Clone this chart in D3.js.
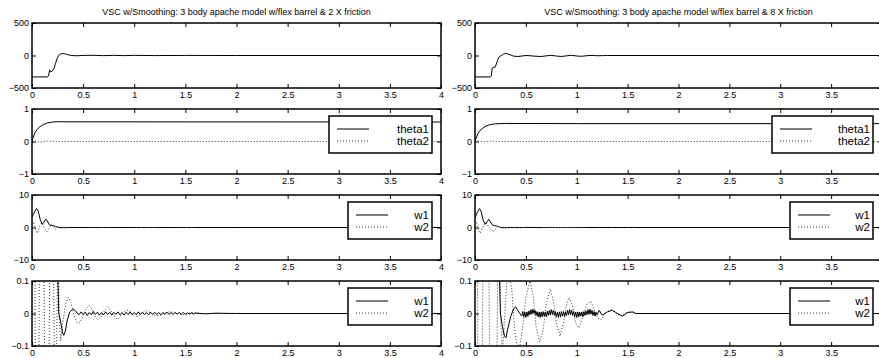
<!DOCTYPE html>
<html>
<head>
<meta charset="utf-8">
<script src="https://cdn.jsdelivr.net/npm/d3@7"></script>
<style>
  body { margin: 0; background: #fff; }
  svg { font-family: "Liberation Sans", Arial, Helvetica, sans-serif; }
</style>
</head>
<body>
<div id="chart"></div>
<script>
// ---- data ----
const titles = [
  "VSC w/Smoothing: 3 body apache model w/flex barrel & 2 X friction",
  "VSC w/Smoothing: 3 body apache model w/flex barrel & 8 X friction"
];
const xTicks = [0, 0.5, 1, 1.5, 2, 2.5, 3, 3.5, 4];
const xTickLabels = ["0", "0.5", "1", "1.5", "2", "2.5", "3", "3.5", "4"];
const yDomains = [[-500, 500], [-1, 1], [-10, 10], [-0.1, 0.1]];
const yTickLabels = [["−500", "0", "500"], ["−1", "0", "1"], ["−10", "0", "10"], ["−0.1", "0", "0.1"]];
const legendThetas = ["theta1", "theta2"];
const legendRates = ["w1", "w2"];

// 2 X friction
const ctrl2x = [[0,-330],[0.15,-330],[0.162,-315],[0.172,-222],[0.185,-252],[0.2,-236],[0.215,-200],[0.23,-120],[0.245,-50],[0.26,0],[0.28,22],[0.3,30],[0.32,27],[0.35,12],[0.38,2],[0.42,-4],[0.46,-3],[0.5,1],[0.6,3],[0.7,-2],[0.8,2],[0.9,-2],[1.0,2],[1.2,-1],[1.5,1],[2,0],[4,0]];
const theta1_2x = [[0,0],[0.01,0.12],[0.03,0.28],[0.05,0.37],[0.08,0.46],[0.11,0.52],[0.15,0.57],[0.2,0.6],[0.25,0.61],[0.35,0.605],[4,0.6]];
const theta2_2x = [[0,0],[0.03,0.02],[0.08,-0.02],[0.15,0.01],[0.25,0],[4,0]];
const w1_2x = [[0,3.2],[0.02,4.5],[0.045,5.8],[0.06,5.2],[0.08,2.5],[0.1,1.0],[0.115,1.6],[0.135,2.6],[0.15,2.0],[0.17,0.8],[0.19,0.6],[0.21,0.55],[0.23,0.35],[0.245,0.15],[0.252,0.12],[0.262,0.0],[0.28,-0.025],[0.3,-0.06],[0.31,-0.067],[0.325,-0.055],[0.345,-0.02],[0.37,0.005],[0.4,0.014],[0.42,0.01],[0.44,0.002],
  [0.46,-0.004],[0.48,0.005],[0.5,-0.003],[0.52,0.004],[0.54,-0.006],[0.56,0.003],[0.58,-0.004],[0.6,0.006],[0.62,-0.003],[0.64,0.004],[0.66,-0.005],[0.68,0.003],[0.7,-0.004],[0.72,0.005],[0.74,-0.003],[0.76,0.004],[0.78,-0.005],[0.8,0.004],[0.82,-0.003],[0.84,0.005],[0.86,-0.004],[0.88,0.003],[0.9,-0.005],[0.92,0.004],[0.94,-0.003],[0.96,0.005],[0.98,-0.004],[1.0,0.003],[1.02,-0.004],[1.04,0.005],[1.06,-0.003],[1.08,0.004],[1.1,-0.004],[1.12,0.003],[1.14,-0.004],[1.16,0.004],[1.18,-0.003],[1.2,0.004],[1.22,-0.003],[1.24,0.003],[1.26,-0.004],[1.28,0.003],[1.3,-0.003],[1.32,0.004],[1.34,-0.003],[1.36,0.003],[1.38,-0.003],[1.4,0.003],[1.42,-0.002],[1.44,0.003],[1.46,-0.002],[1.48,0.003],[1.5,-0.002],[1.52,0.002],[1.54,-0.002],[1.56,0.002],[1.58,-0.002],[1.6,0.001],[1.7,-0.001],[1.8,0.001],[2,0],[4,0]];
const w2_2x = [[0,1.5],[0.012,1.8],[0.03,0],[0.05,-1.8],[0.07,0],[0.095,1.5],[0.12,0],[0.145,-1.3],[0.17,0],[0.19,1.0],[0.215,0],[0.228,-0.5],[0.245,0],[0.255,0.3],[0.265,0],[0.28,-0.085],[0.3,-0.03],[0.33,0.03],[0.355,0.05],[0.38,0.035],[0.41,-0.005],[0.44,-0.028],[0.46,-0.03],[0.49,-0.015],[0.52,0.01],[0.56,0.025],[0.59,0.012],[0.62,-0.012],[0.645,-0.02],[0.68,-0.008],[0.715,0.012],[0.745,0.02],[0.78,0.005],[0.81,-0.012],[0.84,-0.018],[0.87,-0.005],[0.91,0.008],[0.94,0.011],[0.97,0.002],[1.0,-0.008],[1.03,-0.01],[1.07,0.0],[1.1,0.007],[1.13,0.008],[1.17,0.0],[1.2,-0.005],[1.25,-0.006],[1.3,0.002],[1.35,0.005],[1.4,0.003],[1.45,-0.003],[1.5,-0.004],[1.55,0.002],[1.6,0.003],[1.65,0],[4,0]];

// 8 X friction
const ctrl8x = [[0,-330],[0.15,-330],[0.16,-320],[0.17,-190],[0.18,-180],[0.195,-186],[0.21,-130],[0.225,-60],[0.24,-15],[0.26,0],[0.28,20],[0.3,32],[0.32,25],[0.35,8],[0.38,-10],[0.42,-15],[0.46,-8],[0.5,0],[0.55,-5],[0.6,-12],[0.65,-15],[0.7,-5],[0.75,2],[0.8,-8],[0.85,-15],[0.9,-5],[0.95,3],[1.0,-8],[1.05,-12],[1.1,-3],[1.15,2],[1.2,-4],[1.25,-2],[1.3,0],[4,0]];
const theta1_8x = [[0,0],[0.01,0.1],[0.03,0.25],[0.05,0.34],[0.08,0.42],[0.11,0.48],[0.15,0.52],[0.2,0.545],[0.3,0.555],[1,0.55],[4,0.55]];
const theta2_8x = [[0,0],[0.03,0.02],[0.08,-0.02],[0.15,0.01],[0.25,0],[4,0]];
const w1_8x = [[0,3],[0.02,4.5],[0.045,5.8],[0.06,5],[0.08,2.2],[0.1,1.0],[0.12,1.8],[0.135,2.5],[0.15,1.8],[0.17,0.8],[0.19,0.6],[0.21,0.5],[0.23,0.3],[0.24,0.12],[0.246,0.05],[0.25,0.0],[0.27,-0.04],[0.29,-0.07],[0.305,-0.075],[0.32,-0.05],[0.35,-0.01],[0.38,0.015],[0.4,0.02],[0.42,0.01],[0.44,0],
  [0.46,-0.008],[0.47,0.006],[0.48,-0.01],[0.49,0.004],[0.5,-0.012],[0.51,0.005],[0.52,-0.009],[0.53,0.008],[0.54,-0.004],[0.55,0.012],[0.56,-0.002],[0.57,0.013],[0.58,0.0],[0.59,0.01],[0.6,-0.006],[0.61,0.006],[0.62,-0.01],[0.63,0.004],[0.64,-0.012],[0.65,0.005],[0.66,-0.01],[0.67,0.006],[0.68,-0.008],[0.69,0.004],[0.7,-0.01],[0.71,0.007],[0.72,-0.006],[0.73,0.009],[0.74,-0.004],[0.75,0.012],[0.76,-0.003],[0.77,0.01],[0.78,-0.006],[0.79,0.006],[0.8,-0.01],[0.81,0.004],[0.82,-0.012],[0.83,0.005],[0.84,-0.01],[0.85,0.006],[0.86,-0.008],[0.87,0.006],[0.88,-0.009],[0.89,0.005],[0.9,-0.006],[0.91,0.01],[0.92,-0.004],[0.93,0.012],[0.94,-0.003],[0.95,0.01],[0.96,-0.006],[0.97,0.006],[0.98,-0.01],[0.99,0.004],[1.0,-0.012],[1.01,0.005],[1.02,-0.01],[1.03,0.004],[1.04,-0.008],[1.05,0.005],[1.06,-0.01],[1.07,0.006],[1.08,-0.006],[1.09,0.008],[1.1,-0.004],[1.11,0.012],[1.12,-0.003],[1.13,0.013],[1.14,-0.002],[1.15,0.01],[1.16,-0.006],[1.17,0.006],[1.18,-0.008],[1.19,0.004],[1.2,-0.004],
  [1.22,0.01],[1.25,-0.005],[1.3,0.005],[1.35,0.01],[1.4,0],[1.45,-0.008],[1.5,0.003],[1.55,0.005],[1.58,0],[4,0]];
const w2_8x = [[0,1.6],[0.012,1.9],[0.026,0],[0.05,-1.8],[0.075,0],[0.105,1.6],[0.14,0],[0.18,-1.3],[0.22,0],[0.235,0.5],[0.25,0],[0.27,-0.12],[0.29,-0.02],[0.31,0.09],[0.33,0.13],[0.36,0.08],[0.39,-0.05],[0.42,-0.11],[0.44,-0.1],[0.47,-0.04],[0.5,0.05],[0.54,0.1],[0.57,0.06],[0.6,-0.04],[0.635,-0.088],[0.67,-0.05],[0.7,0.03],[0.74,0.075],[0.77,0.04],[0.8,-0.03],[0.835,-0.07],[0.87,-0.03],[0.9,0.03],[0.925,0.05],[0.96,0.02],[0.99,-0.03],[1.02,-0.045],[1.06,-0.01],[1.1,0.03],[1.14,0.037],[1.18,0.005],[1.21,-0.015],[1.24,-0.02],[1.28,0],[1.33,0.012],[1.38,0.002],[1.43,-0.008],[1.48,0.002],[1.52,0.005],[1.57,0],[4,0]];

// ---- layout ----
const W = 879, H = 358;
const cols = [{ x: 32, w: 409 }, { x: 475, w: 407 }];
const rowTops = [23, 109, 195, 281];
const plotH = 65;

const columns = [
  { title: titles[0], rows: [
    { series: [{ d: ctrl2x }] },
    { series: [{ d: theta1_2x }, { d: theta2_2x, dotted: true }], legend: legendThetas, legW: 103 },
    { series: [{ d: w1_2x }, { d: w2_2x, dotted: true }], legend: legendRates, legW: 84 },
    { series: [{ d: w1_2x }, { d: w2_2x, dotted: true }], legend: legendRates, legW: 84 }
  ]},
  { title: titles[1], rows: [
    { series: [{ d: ctrl8x }] },
    { series: [{ d: theta1_8x }, { d: theta2_8x, dotted: true }], legend: legendThetas, legW: 101 },
    { series: [{ d: w1_8x }, { d: w2_8x, dotted: true }], legend: legendRates, legW: 83 },
    { series: [{ d: w1_8x }, { d: w2_8x, dotted: true }], legend: legendRates, legW: 83 }
  ]}
];

const svg = d3.select('#chart').append('svg')
  .attr('width', W).attr('height', H);

columns.forEach((col, ci) => {
  const c = cols[ci];
  const x = d3.scaleLinear().domain([0, 4]).range([0, c.w]);

  svg.append('text')
    .attr('x', c.x + c.w / 2).attr('y', 15)
    .attr('text-anchor', 'middle')
    .attr('font-size', 9)
    .text(col.title);

  col.rows.forEach((row, ri) => {
    const dom = yDomains[ri];
    const y = d3.scaleLinear().domain(dom).range([plotH, 0]);
    const g = svg.append('g').attr('transform', `translate(${c.x},${rowTops[ri]})`);
    const clipId = `clip-${ci}-${ri}`;
    g.append('clipPath').attr('id', clipId)
      .append('rect').attr('width', c.w).attr('height', plotH);

    const line = d3.line().x(p => x(p[0])).y(p => y(p[1]));
    const lines = g.append('g').attr('clip-path', `url(#${clipId})`);
    // dotted first, solid on top
    row.series.slice().reverse().forEach(s => {
      lines.append('path')
        .attr('d', line(s.d))
        .attr('fill', 'none')
        .attr('stroke', '#000')
        .attr('stroke-width', s.dotted ? 0.8 : 1)
        .attr('stroke-dasharray', s.dotted ? '1,2' : null);
    });

    // labels that would fall past the window edge are left out (the reference is cut there)
    const xLabel = (d, i) => (c.x + x(d) + 4 > W ? '' : xTickLabels[i]);
    const yVals = [dom[0], 0, dom[1]];
    const axB = g.append('g').attr('transform', `translate(0,${plotH})`)
      .call(d3.axisBottom(x).tickValues(xTicks).tickFormat(xLabel).tickSize(-4).tickSizeOuter(0).tickPadding(4));
    const axT = g.append('g')
      .call(d3.axisTop(x).tickValues(xTicks).tickFormat('').tickSize(-4).tickSizeOuter(0));
    const axL = g.append('g')
      .call(d3.axisLeft(y).tickValues(yVals).tickFormat((d, i) => yTickLabels[ri][i]).tickSize(-4).tickSizeOuter(0).tickPadding(3));
    const axR = g.append('g').attr('transform', `translate(${c.w},0)`)
      .call(d3.axisRight(y).tickValues(yVals).tickFormat('').tickSize(-4).tickSizeOuter(0));
    [axB, axT, axL, axR].forEach(a => {
      a.select('.domain').remove();
      a.selectAll('.tick line').attr('stroke', '#000');
      a.selectAll('text').attr('font-size', 9).attr('fill', '#000')
        .attr('font-family', '"Liberation Sans", Arial, sans-serif');
    });

    g.append('rect')
      .attr('width', c.w).attr('height', plotH)
      .attr('fill', 'none').attr('stroke', '#000').attr('stroke-width', 1.5);

    if (row.legend) {
      const lw = row.legW, lh = 37;
      const lx = c.w - 9 - lw, ly = 7;
      const lg = g.append('g').attr('transform', `translate(${lx},${ly})`);
      lg.append('rect').attr('width', lw).attr('height', lh)
        .attr('fill', '#fff').attr('stroke', '#000').attr('stroke-width', 1.5);
      row.legend.forEach((name, li) => {
        const cy = 13 + li * 12;
        lg.append('line')
          .attr('x1', 8).attr('x2', 40).attr('y1', cy).attr('y2', cy)
          .attr('stroke', '#000')
          .attr('stroke-width', li ? 0.8 : 1)
          .attr('stroke-dasharray', li ? '1,2' : null);
        lg.append('text')
          .attr('x', lw - 3).attr('y', cy + 4)
          .attr('text-anchor', 'end')
          .attr('font-size', 11.5)
          .text(name);
      });
    }
  });
});
</script>
</body>
</html>
